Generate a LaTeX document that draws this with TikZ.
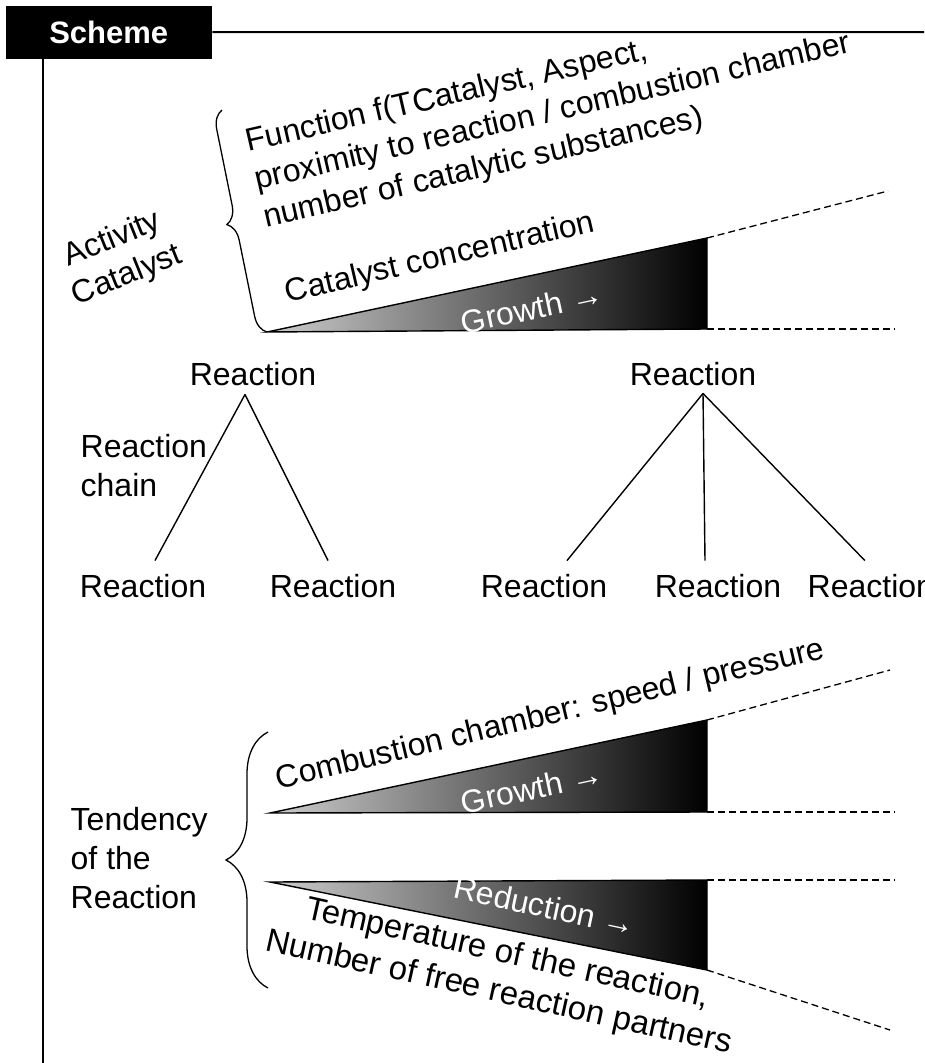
\documentclass[tikz,border=0pt]{standalone}
\usepackage{fontspec}
\setmainfont{Liberation Sans}
\usetikzlibrary{calc, decorations.pathreplacing}
\definecolor{wedgelight}{RGB}{205, 205, 205}

\begin{document}
\begin{tikzpicture}[x=1pt, y=-1pt, line width=1.4pt,
    lbl/.style={font=\fontsize{32}{39}\selectfont, inner sep=2pt},
    inlbl/.style={lbl, text=white},
    headbox/.style={fill=black, text=white, font=\fontsize{31}{34}\selectfont\bfseries,
        minimum width=206pt, minimum height=53pt, inner sep=0pt},
    frame/.style={line width=2pt},
    wedge/.style={draw=black, line width=1.4pt, left color=wedgelight, right color=black},
    guide/.style={dash pattern=on 7pt off 4pt, line width=1.3pt},
    curly/.style={decorate, decoration={brace, amplitude=#1}, line width=1.3pt}]
    \useasboundingbox (0,0) rectangle (924,1063);

    % 1. Header box and frame
    \node[headbox, anchor=north west] (scheme) at (5,5) {Scheme};
    \coordinate (topend) at (924,32);
    \coordinate (sideend) at (43,1063);
    \draw[frame] (scheme.east) -- (topend);
    \draw[frame] (scheme.south west -| sideend) -- (sideend);

    % 2. Activity of the catalyst
    \coordinate (w1a) at (267,332);  % apex
    \coordinate (w1t) at (707,238);  % top right
    \coordinate (w1b) at (707,329);  % bottom right
    \coordinate (g1t) at (888,191);
    \coordinate (g1b) at (895,329);
    \coordinate (c1top) at (222,110);
    \path[wedge] (w1a) -- (w1t) -- (w1b) -- cycle;
    \draw[guide] (w1t) -- (g1t);
    \draw[guide] (w1b) -- (g1b);
    \draw[curly=18pt] (w1a) -- (c1top);

    \node[lbl, rotate=22, align=center] (activity) at (120,258) {Activity\\Catalyst};
    \node[lbl, rotate=13, anchor=west, align=left] (func) at (253,182)
        {Function f(TCatalyst, Aspect,\\proximity to reaction / combustion chamber\\number of catalytic substances)};
    \node[lbl, rotate=13, anchor=base west] (conc) at (285,303) {Catalyst concentration};
    \node[inlbl, rotate=12] (grow1) at (532,308) {Growth →};

    % 3. Reaction chains
    \node[lbl, align=left, anchor=west] (chain) at (78,466) {Reaction\\chain};
    \node[lbl] (r1) at (253,374) {Reaction};
    \node[lbl] (r1a) at (143,586) {Reaction};
    \node[lbl] (r1b) at (333,586) {Reaction};
    \node[lbl] (r2) at (693,374) {Reaction};
    \node[lbl] (r2a) at (544,586) {Reaction};
    \node[lbl] (r2b) at (718,586) {Reaction};
    \node[lbl, anchor=west] (r2c) at (805,586) {Reaction};

    \draw ([xshift=-8pt, yshift=-6pt]r1.south) -- ([xshift=12pt, yshift=11pt]r1a.north);
    \draw ([xshift=-8pt, yshift=-6pt]r1.south) -- ([xshift=-5pt, yshift=11pt]r1b.north);
    \draw ([xshift=10pt, yshift=-5pt]r2.south) -- ([xshift=23pt, yshift=11pt]r2a.north);
    \draw ([xshift=10pt, yshift=-5pt]r2.south) -- ([xshift=-13pt, yshift=11pt]r2b.north);
    \draw ([xshift=10pt, yshift=-5pt]r2.south) -- ([xshift=-6pt, yshift=11pt]r2c.north);

    % 4. Tendency of the reaction
    \coordinate (w2a) at (270,813);
    \coordinate (w2t) at (707,720);
    \coordinate (w2b) at (707,812);
    \coordinate (g2t) at (890,670);
    \coordinate (g2b) at (895,812);
    \coordinate (w3a) at (270,882);
    \coordinate (w3t) at (707,880);
    \coordinate (w3b) at (707,970);
    \coordinate (g3t) at (895,880);
    \coordinate (g3b) at (890,1030);
    \coordinate (c2top) at (268,732);
    \coordinate (c2bot) at (268,988);

    \path[wedge] (w2a) -- (w2t) -- (w2b) -- cycle;
    \draw[guide] (w2t) -- (g2t);
    \draw[guide] (w2b) -- (g2b);
    \path[wedge] (w3a) -- (w3t) -- (w3b) -- cycle;
    \draw[guide] (w3t) -- (g3t);
    \draw[guide] (w3b) -- (g3b);
    \draw[curly=42pt] (c2bot) -- (c2top);

    \node[lbl, align=left, anchor=west] (tend) at (68,858) {Tendency\\of the\\Reaction};
    \node[lbl, rotate=13.5, anchor=base west] (speed) at (276,790) {Combustion chamber: speed / pressure};
    \node[inlbl, rotate=12] (grow2) at (532,788) {Growth →};
    \node[inlbl, rotate=-12] (reduce) at (545,906) {Reduction →};
    \node[lbl, font=\fontsize{33}{40}\selectfont, rotate=-12.5, align=center] (temp) at (503,974)
        {Temperature of the reaction,\\Number of free reaction partners};
\end{tikzpicture}
\end{document}
